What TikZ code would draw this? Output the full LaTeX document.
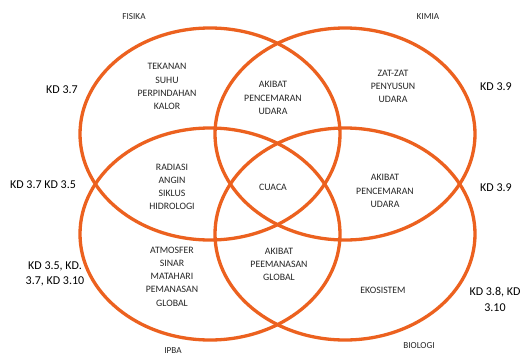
\documentclass[tikz,border=0pt]{standalone}
\usepackage{fontspec}
\setmainfont{Carlito}
\definecolor{vorange}{RGB}{236,97,31}
\begin{document}
\begin{tikzpicture}[x=1pt,y=-1pt,
  ring/.style={draw=vorange,line width=3.3pt},
  lbl/.style={font=\fontsize{9.8}{13.2}\selectfont,align=center,text=black!85,inner sep=0pt},
  kd/.style={font=\fontsize{12}{15.5}\selectfont,align=center,text=black,inner sep=0pt},
  subj/.style={font=\fontsize{9.2}{11}\selectfont,text=black!85,inner sep=0pt}]
\useasboundingbox (0,0) rectangle (525,356);
\fill[white] (0,0) rectangle (525,356);
% ellipses
\draw[ring] (210,134) ellipse [x radius=130, y radius=106];
\draw[ring] (345,134) ellipse [x radius=130, y radius=106];
\draw[ring] (210,234) ellipse [x radius=130, y radius=106];
\draw[ring] (345,234) ellipse [x radius=130, y radius=106];
% subject labels
\node[subj] (fis) at (134,17) {FISIKA};
\node[subj] (kim) at (428,17) {KIMIA};
\node[subj] (ipba) at (173,350.5) {IPBA};
\node[subj] (bio) at (419,346) {BIOLOGI};
% KD labels
\node[kd] (kd1) at (62,90) {KD 3.7};
\node[kd] (kd2) at (496,87) {KD 3.9};
\node[kd] (kd3) at (43,185) {KD 3.7 KD 3.5};
\node[kd] (kd4) at (496,188) {KD 3.9};
\node[kd] (kd5) at (55,274) {KD 3.5, KD.\\3.7, KD 3.10};
\node[kd] (kd6) at (495,299.5) {KD 3.8, KD\\3.10};
% region texts
\node[lbl] (t1) at (167,86.5) {TEKANAN\\SUHU\\PERPINDAHAN\\KALOR};
\node[lbl] (t2) at (273,98) {AKIBAT\\PENCEMARAN\\UDARA};
\node[lbl] (t3) at (393,86.5) {ZAT-ZAT\\PENYUSUN\\UDARA};
\node[lbl] (t4) at (172,187) {RADIASI\\ANGIN\\SIKLUS\\HIDROLOGI};
\node[lbl] (t5) at (273,187) {CUACA};
\node[lbl] (t6) at (385,191) {AKIBAT\\PENCEMARAN\\UDARA};
\node[lbl] (t7) at (172,276.5) {ATMOSFER\\SINAR\\MATAHARI\\PEMANASAN\\GLOBAL};
\node[lbl] (t8) at (279,264.5) {AKIBAT\\PEEMANASAN\\GLOBAL};
\node[lbl] (t9) at (383,290) {EKOSISTEM};
\end{tikzpicture}
\end{document}
